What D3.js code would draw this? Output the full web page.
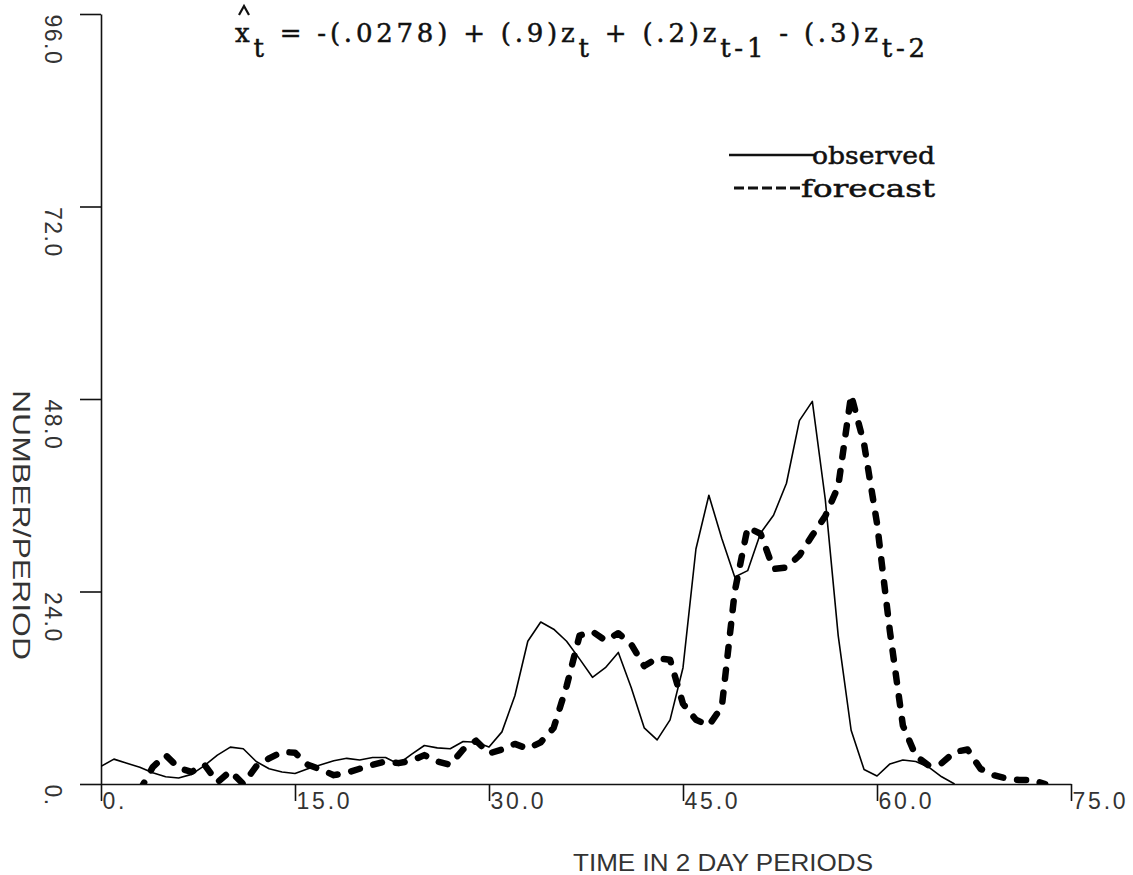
<!DOCTYPE html>
<html><head><meta charset="utf-8">
<script src="https://cdn.jsdelivr.net/npm/d3@7"></script>
<style>
body{margin:0;background:#fff;}
svg{display:block;}
.plot{font-family:"Liberation Sans","Arimo","DejaVu Sans",sans-serif;}
.tw{font-family:"DejaVu Serif","Liberation Serif",serif;}
</style></head>
<body>
<svg id="chart" width="1133" height="875"></svg>
<script>
// ---- data ----
const xTickValues = [0, 15, 30, 45, 60, 75];
const xTickLabels = ["0.", "15.0", "30.0", "45.0", "60.0", "75.0"];
const yTickValues = [0, 24, 48, 72, 96];
const yTickLabels = ["0.", "24.0", "48.0", "72.0", "96.0"];
const xTitle = "TIME IN 2 DAY PERIODS";
const yTitle = "NUMBER/PERIOD";
const seriesNames = ["observed", "forecast"];

// observed: periods 0..66
const observedStart = 0;
const observedValues = [2.2, 3.1, 2.6, 2.1, 1.4, 0.9, 0.75, 1.2, 2.3, 3.6,
  4.6, 4.4, 2.8, 1.9, 1.5, 1.3, 1.9, 2.4, 2.9, 3.2,
  3.0, 3.3, 3.3, 2.5, 3.7, 4.8, 4.5, 4.4, 5.3, 5.2,
  4.6, 6.5, 11.0, 17.8, 20.2, 19.3, 17.8, 15.6, 13.3, 14.5,
  16.4, 12.0, 7.0, 5.5, 8.0, 14.5, 29.3, 36.0, 30.6, 25.8,
  26.6, 31.3, 33.5, 37.5, 45.3, 47.7, 35.5, 18.5, 6.7, 1.8,
  1.0, 2.5, 3.0, 2.8, 2.1, 0.9, 0.0];

// forecast: periods 3..73
const forecastStart = 3;
const forecastValues = [-0.8, 2.1, 3.6, 2.0, 1.5, 2.4, 0.2, 1.6, 0.0,
  2.2, 3.2, 4.0, 3.9, 2.4, 1.8, 1.1, 1.4, 1.9, 2.4,
  2.8, 2.6, 2.9, 3.6, 2.8, 2.4, 4.3, 5.4, 3.8, 4.3,
  5.0, 4.4, 5.2, 7.0, 12.2, 18.5, 19.0, 17.9, 18.8, 17.4,
  14.7, 15.7, 15.5, 10.0, 8.0, 7.3, 9.6, 24.0, 32.0, 31.2,
  26.8, 27.0, 28.5, 31.0, 33.4, 37.1, 48.5, 42.4, 32.5, 19.0,
  7.3, 3.5, 2.3, 2.6, 4.0, 4.3, 1.9, 1.1, 0.7, 0.5,
  0.5, 0.0];

// ---- chart ----
const svg = d3.select("#chart");
const x = d3.scaleLinear().domain([0, 75]).range([101, 1071]);
const y = d3.scaleLinear().domain([0, 96]).range([784, 14]);

svg.append("defs").append("clipPath").attr("id", "clip")
  .append("rect").attr("x", x(0)).attr("y", y(96) - 10)
  .attr("width", x(75) - x(0) + 10).attr("height", y(0) - y(96) + 10);

const g = svg.append("g").attr("class", "plot");

// x axis
const xAxis = g.append("g").attr("transform", `translate(0,${y(0)})`)
  .call(d3.axisBottom(x).tickValues(xTickValues)
    .tickFormat((d, i) => xTickLabels[i]).tickSize(17).tickSizeOuter(0));
xAxis.select(".domain").attr("stroke", "#111").attr("stroke-width", 1.6);
xAxis.selectAll(".tick line").attr("stroke", "#111").attr("stroke-width", 1.6);
xAxis.selectAll(".tick text")
  .attr("text-anchor", "start").attr("x", 1).attr("y", 9).attr("dy", "0.71em")
  .attr("font-size", 23).attr("letter-spacing", 2.8).attr("fill", "#333")
  .style("font-family", "inherit");

// y axis
const yAxis = g.append("g").attr("transform", `translate(${x(0)},0)`)
  .call(d3.axisLeft(y).tickValues(yTickValues)
    .tickFormat((d, i) => yTickLabels[i]).tickSize(21).tickSizeOuter(0));
yAxis.select(".domain").attr("stroke", "#111").attr("stroke-width", 1.6);
yAxis.selectAll(".tick line").attr("stroke", "#111").attr("stroke-width", 1.6);
yAxis.selectAll(".tick text")
  .attr("text-anchor", "start").attr("x", 0).attr("y", 0).attr("dy", 0)
  .attr("transform", "translate(-56,0) rotate(90)")
  .attr("font-size", 23).attr("letter-spacing", 1.5).attr("fill", "#333")
  .style("font-family", "inherit");
svg.selectAll(".domain").attr("fill", "none");

// axis titles
g.append("text").attr("x", 573).attr("y", 871)
  .attr("font-size", 23).attr("textLength", 300).attr("lengthAdjust", "spacingAndGlyphs")
  .attr("fill", "#333").text(xTitle);
g.append("text").attr("transform", "translate(13,390) rotate(90)")
  .attr("font-size", 23).attr("textLength", 270).attr("lengthAdjust", "spacingAndGlyphs")
  .attr("fill", "#333").text(yTitle);

// lines
const plot = svg.append("g").attr("clip-path", "url(#clip)");
const obsData = observedValues.map((v, i) => [observedStart + i, v]);
const fcData = forecastValues.map((v, i) => [forecastStart + i, v]);
const line = d3.line().x(d => x(d[0])).y(d => y(d[1]));

plot.append("path").datum(obsData).attr("d", line)
  .attr("fill", "none").attr("stroke", "#000").attr("stroke-width", 1.6)
  .attr("stroke-linejoin", "round");
plot.append("path").datum(fcData).attr("d", line)
  .attr("fill", "none").attr("stroke", "#000").attr("stroke-width", 6.5)
  .attr("stroke-dasharray", "9,14").attr("stroke-linecap", "round")
  .attr("stroke-linejoin", "round");

// title equation
const title = svg.append("g").attr("class", "tw").attr("fill", "#111")
  .attr("stroke", "#111").attr("stroke-width", 0.5);
// circumflex (hat) over x, drawn as a small stroke
title.append("path").attr("d", "M239,15 L244,6 L249,15")
  .attr("fill", "none").attr("stroke", "#111").attr("stroke-width", 2.2);
const t = title.append("text").attr("x", 235).attr("y", 42).attr("font-size", 26)
  .attr("textLength", 690).attr("lengthAdjust", "spacing");
const parts = [
  ["x", 0], ["t", 15], [" = -(.0278) + (.9)z", -15], ["t", 15],
  [" + (.2)z", -15], ["t-1", 15], [" - (.3)z", -15], ["t-2", 15]
];
parts.forEach(p => t.append("tspan").attr("dy", p[1]).text(p[0]));

// legend
const leg = svg.append("g").attr("class", "tw").attr("fill", "#111")
  .attr("stroke", "#111").attr("stroke-width", 0.5);
leg.append("line").attr("x1", 729).attr("x2", 815).attr("y1", 155).attr("y2", 155)
  .attr("stroke", "#111").attr("stroke-width", 2.5);
leg.append("text").attr("x", 812).attr("y", 164).attr("font-size", 25)
  .attr("textLength", 123).attr("lengthAdjust", "spacingAndGlyphs").text(seriesNames[0]);
leg.append("line").attr("x1", 734).attr("x2", 800).attr("y1", 188).attr("y2", 188)
  .attr("stroke", "#111").attr("stroke-width", 3).attr("stroke-dasharray", "10,4");
leg.append("text").attr("x", 801).attr("y", 197).attr("font-size", 25)
  .attr("textLength", 134).attr("lengthAdjust", "spacingAndGlyphs").text(seriesNames[1]);
</script>
</body></html>
